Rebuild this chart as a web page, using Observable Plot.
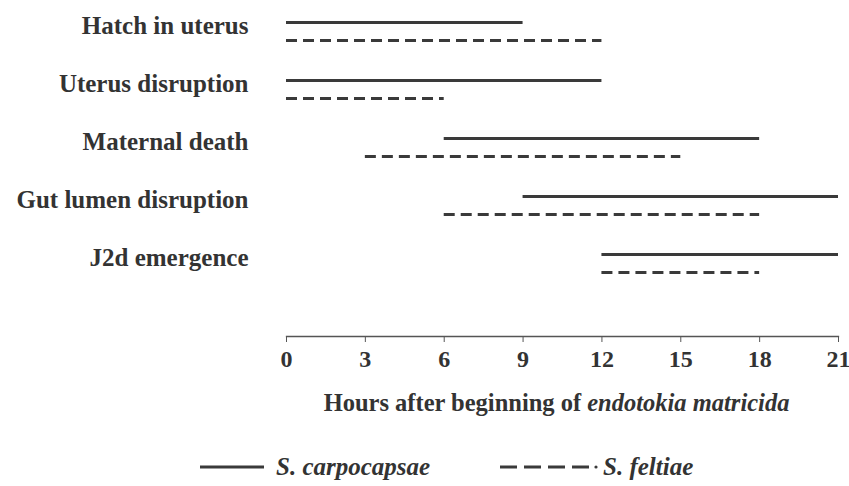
<!DOCTYPE html>
<html>
<head>
<meta charset="utf-8">
<script src="https://cdn.jsdelivr.net/npm/d3@7"></script>
<script src="https://cdn.jsdelivr.net/npm/@observablehq/plot@0.6"></script>
<style>
  body { margin: 0; background: #fff; }
  #wrap { position: relative; width: 849px; height: 486px; font-family: "Liberation Serif", "Times New Roman", serif; color: #333; }
  .title { position: absolute; left: 278px; width: 557px; top: 388px; text-align: center; font-weight: bold; font-size: 24.5px; line-height: 30px; white-space: nowrap; }
  .lg { position: absolute; top: 452px; font-weight: bold; font-style: italic; font-size: 25px; line-height: 30px; white-space: nowrap; }
  .lgline { position: absolute; top: 462px; }
</style>
</head>
<body>
<div id="wrap">
  <div id="chart"></div>
  <div class="title">Hours after beginning of <i>endotokia matricida</i></div>
  <svg class="lgline" style="left:200px" width="64" height="10"><line x1="0" x2="64" y1="5" y2="5" stroke="#3a3a3a" stroke-width="3"/></svg>
  <div class="lg" style="left:276px">S. carpocapsae</div>
  <svg class="lgline" style="left:500px" width="100" height="10"><line x1="0" x2="90" y1="5" y2="5" stroke="#3a3a3a" stroke-width="3" stroke-dasharray="17,7"/><circle cx="96" cy="5" r="1.6" fill="#3a3a3a"/></svg>
  <div class="lg" style="left:603px">S. feltiae</div>
</div>
<script>
const categories = ["Hatch in uterus", "Uterus disruption", "Maternal death", "Gut lumen disruption", "J2d emergence"];
const series = ["S. carpocapsae", "S. feltiae"];
const carpStart = [0, 0, 6, 9, 12];
const carpEnd   = [9, 12, 18, 21, 21];
const feltStart = [0, 0, 3, 6, 12];
const feltEnd   = [12, 6, 15, 18, 18];
const xTicks = [0, 3, 6, 9, 12, 15, 18, 21];

const carp = categories.map((c, i) => ({category: c, series: series[0], start: carpStart[i], end: carpEnd[i]}));
const felt = categories.map((c, i) => ({category: c, series: series[1], start: feltStart[i], end: feltEnd[i]}));

const chart = Plot.plot({
  width: 849,
  height: 385,
  marginLeft: 286,
  marginRight: 11,
  marginTop: 0,
  marginBottom: 49,
  style: {fontFamily: "'Liberation Serif', 'Times New Roman', serif", color: "#333", background: "#fff"},
  x: {domain: [0, 21], ticks: xTicks},
  y: {type: "point", domain: categories, range: [29, 264], padding: 0},
  marks: [
    Plot.frame({anchor: "bottom", stroke: "#555", strokeWidth: 1.3}),
    Plot.axisX({ticks: xTicks, tickSize: 6, tickPadding: 7, fontSize: 24, fontWeight: "bold", label: null, stroke: "#555"}),
    Plot.axisY({tickSize: 0, tickPadding: 38, fontSize: 25, fontWeight: "bold", label: null, dy: -6}),
    Plot.ruleY(carp, {y: "category", x1: "start", x2: "end", dy: -9, stroke: "#3a3a3a", strokeWidth: 3.2}),
    Plot.ruleY(felt, {y: "category", x1: "start", x2: "end", dy: 9, stroke: "#3a3a3a", strokeWidth: 3.2, strokeDasharray: "11,6"})
  ]
});
document.getElementById("chart").appendChild(chart);
</script>
</body>
</html>
